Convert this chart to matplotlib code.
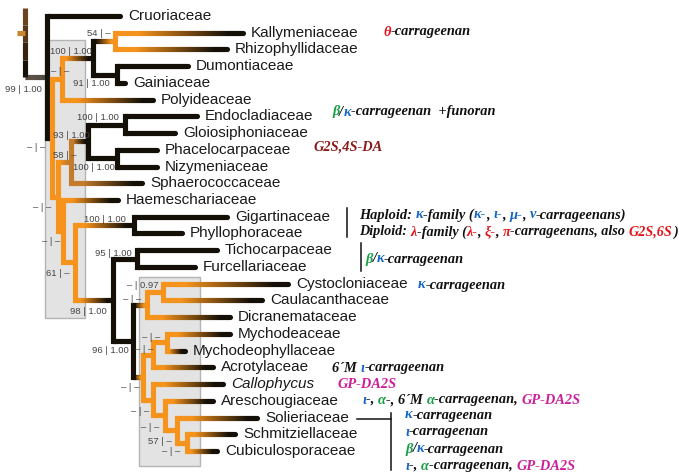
import matplotlib
matplotlib.use("Agg")
import matplotlib.pyplot as plt
from matplotlib.collections import LineCollection
from matplotlib.patches import Rectangle
from matplotlib.font_manager import FontProperties
import matplotlib.colors as mcolors
import numpy as np

# ---------------- data ----------------
taxa = ["Cruoriaceae", "Kallymeniaceae", "Rhizophyllidaceae", "Dumontiaceae", "Gainiaceae",
        "Polyideaceae", "Endocladiaceae", "Gloiosiphoniaceae", "Phacelocarpaceae", "Nizymeniaceae",
        "Sphaerococcaceae", "Haemeschariaceae", "Gigartinaceae", "Phyllophoraceae", "Tichocarpaceae",
        "Furcellariaceae", "Cystocloniaceae", "Caulacanthaceae", "Dicranemataceae", "Mychodeaceae",
        "Mychodeophyllaceae", "Acrotylaceae", "Callophycus", "Areschougiaceae", "Solieriaceae",
        "Schmitziellaceae", "Cubiculosporaceae"]
tip_x = [120, 243, 227, 188, 125, 153, 197, 175, 157, 157, 142, 118, 227, 182, 217, 195,
         288, 262, 230, 230, 185, 213, 223, 213, 257, 235, 217]

node_ids = ["A", "B", "C", "D", "E", "F", "G", "H", "I", "J1", "J2", "K", "L", "M",
            "N", "O", "P", "Q", "R", "S", "T", "U", "V", "W", "X", "Y"]
node_x = [47, 52, 62, 93, 115, 117, 58, 71, 88, 125, 117, 63, 75, 134,
          113, 137, 133, 147, 163, 143, 153, 167, 153, 165, 177, 187]
node_left = ["Cruoriaceae", "C", "D", "E", "Kallymeniaceae", "Dumontiaceae", "H", "I", "J1",
             "Endocladiaceae", "Phacelocarpaceae", "Haemeschariaceae", "M", "Gigartinaceae",
             "O", "Tichocarpaceae", "Q", "R", "Cystocloniaceae", "T", "U", "Mychodeaceae",
             "Callophycus", "Areschougiaceae", "Solieriaceae", "Schmitziellaceae"]
node_right = ["B", "G", "Polyideaceae", "F", "Rhizophyllidaceae", "Gainiaceae", "K",
              "Sphaerococcaceae", "J2", "Gloiosiphoniaceae", "Nizymeniaceae", "L", "N",
              "Phyllophoraceae", "P", "Furcellariaceae", "S", "Dicranemataceae",
              "Caulacanthaceae", "V", "Acrotylaceae", "Mychodeophyllaceae", "W", "X", "Y",
              "Cubiculosporaceae"]
# state: o = orange lineage, b = black lineage, m = intermediate
node_state = ["b", "o", "o", "b", "o", "b", "o", "m", "b", "b", "b", "o", "o", "b",
              "b", "b", "b", "o", "o", "o", "o", "o", "o", "o", "o", "o"]

support_text = ["99 | 1.00", "100 | 1.00", "– | –", "91 | 1.00", "54 | –", "100 | 1.00",
                "93 | 1.00", "– | –", "58 | –", "100 | 1.00", "– | –", "100 | 1.00",
                "– | –", "61 | –", "95 | 1.00", "98 | 1.00", "– | 0.97", "– | –",
                "96 | 1.00", "– | –", "– | –", "– | –", "– | –", "– | –", "57 | –", "– | –"]

BLUE = "#1566c4"
GREEN = "#16a045"
RED = "#e3141b"
MAG = "#cc1f99"
DRED = "#8b1a1a"
BK = "#111111"
annotations = [
    [("θ", RED), ("-carrageenan", BK)],
    [("β", GREEN), ("/", BK), ("κ", BLUE), ("-carrageenan  +funoran", BK)],
    [("G2S,4S-DA", DRED)],
    [("Haploid: ", BK), ("κ", BLUE), ("-family (", BK), ("κ-", BLUE), (", ", BK), ("ι-", BLUE),
     (", ", BK), ("μ-", BLUE), (", ", BK), ("ν", BLUE), ("-carrageenans)", BK)],
    [("Diploid: ", BK), ("λ", RED), ("-family (", BK), ("λ-", RED), (", ", BK), ("ξ-", RED),
     (", ", BK), ("π", RED), ("-carrageenans, also ", BK), ("G2S,6S", RED), (")", BK)],
    [("β", GREEN), ("/", BK), ("κ", BLUE), ("-carrageenan", BK)],
    [("κ", BLUE), ("-carrageenan", BK)],
    [("6´M ", BK), ("ι", BLUE), ("-carrageenan", BK)],
    [("GP-DA2S", MAG)],
    [("ι", BLUE), ("-, ", BK), ("α", GREEN), ("-, 6´M ", BK), ("α", GREEN),
     ("-carrageenan, ", BK), ("GP-DA2S", MAG)],
    [("κ", BLUE), ("-carrageenan", BK)],
    [("ι", BLUE), ("-carrageenan", BK)],
    [("β", GREEN), ("/", BK), ("κ", BLUE), ("-carrageenan", BK)],
    [("ι", BLUE), ("-, ", BK), ("α", GREEN), ("-carrageenan, ", BK), ("GP-DA2S", MAG)],
]

# ---------------- layout ----------------
W, H = 679, 473
ROW0, ROWSTEP = 16.0, 16.73   # pixel position of first leaf row / row spacing


def py(p):
    """pixel row -> leaf-index units (layout helper)"""
    return (p - ROW0) / ROWSTEP


support_pos = [(5, 89), (50, 51), (51, 72), (73, 84), (87, 34), (77, 118), (53, 135),
               (27, 147), (53, 156), (73, 168), (33, 208), (84, 219), (42, 242), (46, 273),
               (95, 253), (70, 311), (127, 286), (123, 299), (92, 351), (142, 337),
               (135, 350), (121, 388), (131, 412), (141, 427), (148, 441), (162, 452)]
annot_pos = [(383, 32), (332, 112), (313, 147), (359, 215), (359, 232), (365, 259),
             (418, 285), (332, 368), (337, 385), (362, 400), (405, 415), (405, 432),
             (405, 449), (405, 466)]
RIGHT_LIMIT = 677

ORANGE = "#f5931c"
BLACKL = "#141008"
MID = "#c47c2c"
state_col = {"o": ORANGE, "b": BLACKL, "m": MID}
LW = 3.7

fig = plt.figure(figsize=(W / 100, H / 100), dpi=100)
ax = fig.add_axes([0, 0, 1, 1])
ax.set_xlim(0, W)
ax.set_ylim(py(H), py(0))
ax.axis("off")

# shaded boxes
for (x0, x1, y0, y1) in [(45, 85, 40, 318), (139, 200, 277, 466)]:
    ax.add_patch(Rectangle((x0, py(y0)), x1 - x0, py(y1) - py(y0), facecolor="#e3e3e3",
                           edgecolor="#b4b4b4", lw=1.0, zorder=0))

idx = {n: i for i, n in enumerate(node_ids)}
leaf = {n: i for i, n in enumerate(taxa)}


def ypos(n):
    if n in leaf:
        return float(leaf[n])
    i = idx[n]
    return 0.5 * (ypos(node_left[i]) + ypos(node_right[i]))


def xpos(n):
    return tip_x[leaf[n]] if n in leaf else node_x[idx[n]]


def color_of(n):
    return BLACKL if n in leaf else state_col[node_state[idx[n]]]


def gradient(x0, x1, y, c0, c1, vertical=False, cap="round"):
    a = np.array(mcolors.to_rgb(c0))
    b = np.array(mcolors.to_rgb(c1))
    n = max(2, int(abs(x1 - x0)))
    xs = np.linspace(x0, x1, n + 1)
    segs, cols = [], []
    for k in range(n):
        t = (k + 0.5) / n
        t = np.clip((t - 0.2) / 0.7, 0, 1)
        cols.append(a * (1 - t) + b * t)
        if vertical:
            segs.append([(y, xs[k]), (y, xs[k + 1])])
        else:
            segs.append([(xs[k], y), (xs[k + 1], y)])
    lc = LineCollection(segs, colors=cols, linewidths=LW, capstyle=cap, zorder=2)
    ax.add_collection(lc)


# root stem
root_x = 25
yA = ypos("A")
gradient(py(8), yA, root_x, "#6a4420", BLACKL, vertical=True, cap="butt")
gradient(root_x, node_x[idx["A"]], yA, "#2a1a0c", BLACKL, cap="butt")
ax.plot([17, root_x], [py(33), py(33)], color="#c98530", lw=LW, solid_capstyle="butt", zorder=2)

# tree branches
for i, n in enumerate(node_ids):
    x = node_x[i]
    c = state_col[node_state[i]]
    y1, y2 = ypos(node_left[i]), ypos(node_right[i])
    ax.plot([x, x], [y1, y2], color=c, lw=LW, solid_capstyle="projecting", zorder=3)
    for ch in (node_left[i], node_right[i]):
        gradient(x, xpos(ch), ypos(ch), c, color_of(ch))

# taxa labels
for i, name in enumerate(taxa):
    ax.text(tip_x[i] + 8, i, name, fontsize=11, family=["Liberation Sans", "DejaVu Sans"],
            color="#1a1a1a", va="center", ha="left",
            style="italic" if name == "Callophycus" else "normal", zorder=4)

# support values
for s, (x, y) in zip(support_text, support_pos):
    ax.text(x, py(y), s, fontsize=6.8, family=["Liberation Sans", "DejaVu Sans"],
            color="#444444", va="center", ha="left", zorder=4)

# annotations (multi-coloured runs placed by prefix advance)
fig.canvas.draw()
r = fig.canvas.get_renderer()
ANN_SIZE = 10.4
SERIF = ["Liberation Serif", "DejaVu Serif"]


def make_fp(size):
    return FontProperties(family=SERIF, weight="bold", style="italic", size=size)


def advance(s, fp):
    if not s:
        return 0.0
    w1 = r.get_text_width_height_descent(s + "|", fp, ismath=False)[0]
    w2 = r.get_text_width_height_descent("|", fp, ismath=False)[0]
    return w1 - w2


for pieces, (x0, y) in zip(annotations, annot_pos):
    full = "".join(t for t, _ in pieces)
    fp = make_fp(ANN_SIZE)
    wfull = r.get_text_width_height_descent(full, fp, ismath=False)[0]
    if x0 + wfull > RIGHT_LIMIT:
        fp = make_fp(ANN_SIZE * (RIGHT_LIMIT - x0) / wfull)
    prefix = ""
    for txt, col in pieces:
        ax.text(x0 + advance(prefix, fp), py(y), txt, fontproperties=fp, color=col,
                va="center", ha="left", zorder=4)
        prefix += txt

# bracket lines
for (xa, ya, xb, yb) in [(347, 208, 347, 237), (361, 243, 361, 271),
                         (357, 419, 391, 419), (391, 413, 391, 470)]:
    ax.plot([xa, xb], [py(ya), py(yb)], color=BK, lw=1.1, zorder=4)

fig.savefig("out.png", dpi=100)
